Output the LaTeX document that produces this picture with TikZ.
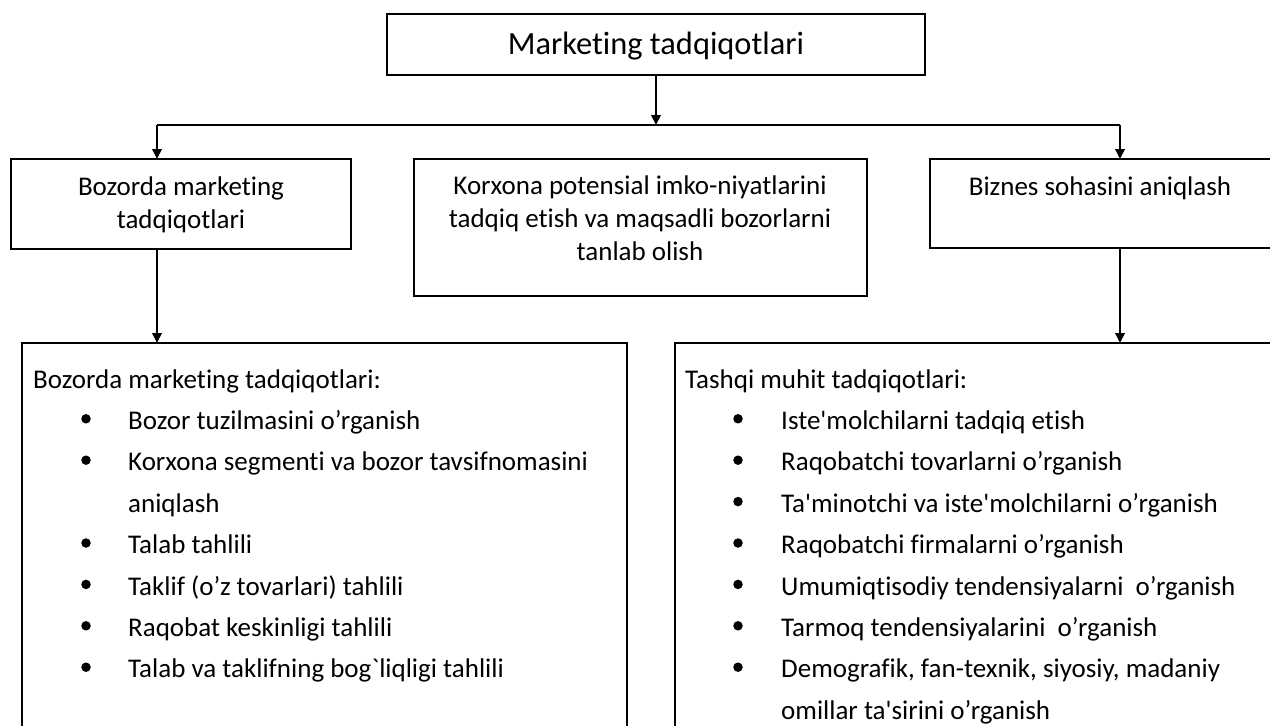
\documentclass[tikz,border=0pt]{standalone}
\usepackage{fontspec}
\newfontfamily\carl{Carlito}[Ligatures=NoCommon]
\usetikzlibrary{arrows.meta}

\tikzset{
  box/.style={draw, line width=1.9pt, inner sep=0pt, outer sep=0pt, anchor=north west},
  arr/.style={line width=1.9pt, -{Triangle[length=10pt,width=9.5pt]}},
  link/.style={line width=1.9pt},
  title/.style={anchor=base, inner sep=0pt, font=\carl\fontsize{32.4}{38}\selectfont},
  lbl/.style={anchor=base, inner sep=0pt, font=\carl\fontsize{27}{33}\selectfont},
  itm/.style={anchor=base west, inner sep=0pt, font=\carl\fontsize{27}{33}\selectfont},
  dot/.style={circle, fill=black, inner sep=0pt, minimum size=9.5pt}
}

\begin{document}
\begin{tikzpicture}[x=1pt, y=-1pt]
  \useasboundingbox (0,0) rectangle (1270,726);
  \clip (0,0) rectangle (1270,726);

  % boxes
  \node[box, minimum width=538pt, minimum height=61pt]  (top) at (387,14)  {};
  \node[box, minimum width=340pt, minimum height=90pt]  (lb)  at (11,159)  {};
  \node[box, minimum width=453pt, minimum height=137pt] (mb)  at (414,159) {};
  \node[box, minimum width=341pt, minimum height=89pt]  (rb)  at (930,159) {};
  \node[box, minimum width=605pt, minimum height=500pt] (bl)  at (22,343)  {};
  \node[box, minimum width=700pt, minimum height=500pt] (br)  at (675,343) {};

  % texts of the upper boxes
  \node[title] (ttop) at (656,54) {Marketing tadqiqotlari};
  \node[lbl] (tl1) at (181,195) {Bozorda marketing};
  \node[lbl] (tl2) at (181,228) {tadqiqotlari};
  \node[lbl] (tm1) at (640,194.5) {Korxona potensial imko-niyatlarini};
  \node[lbl] (tm2) at (640,227.5) {tadqiq etish va maqsadli bozorlarni};
  \node[lbl] (tm3) at (640,260.5) {tanlab olish};
  \node[lbl] (tr1) at (1100,195) {Biznes sohasini aniqlash};

  % connectors
  \coordinate (jT) at (656,125);
  \coordinate (jL) at (157,125);
  \coordinate (jR) at (1120,125);
  \draw[arr]  (top.south) -- (jT);
  \draw[link] (jL) -- (jR);
  \draw[arr]  (jL) -- (jL |- lb.north);
  \draw[arr]  (jR) -- (jR |- rb.north);
  \draw[arr]  (lb.south -| jL) -- (jL |- bl.north);
  \draw[arr]  (rb.south -| jR) -- (jR |- br.north);

  % left list
  \node[itm] (lh) at (33,388) {Bozorda marketing tadqiqotlari:};
  \foreach \k/\b/\t in {
      1/1/{Bozor tuzilmasini o’rganish},
      2/1/{Korxona segmenti va bozor tavsifnomasini},
      3/0/{aniqlash},
      4/1/{Talab tahlili},
      5/1/{Taklif (o’z tovarlari) tahlili},
      6/1/{Raqobat keskinligi tahlili},
      7/1/{Talab va taklifning bog`liqligi tahlili}} {
    \node[itm] (L\k) at (128,388+41.4*\k) {\t};
    \ifnum\b=1
      \node[dot] (Ld\k) at (86,377.4+41.4*\k) {};
    \fi
  }

  % right list
  \node[itm] (rh) at (685,388) {Tashqi muhit tadqiqotlari:};
  \foreach \k/\b/\t in {
      1/1/{Iste'molchilarni tadqiq etish},
      2/1/{Raqobatchi tovarlarni o’rganish},
      3/1/{Ta'minotchi va iste'molchilarni o’rganish},
      4/1/{Raqobatchi firmalarni o’rganish},
      5/1/{Umumiqtisodiy tendensiyalarni\ \ o’rganish},
      6/1/{Tarmoq tendensiyalarini\ \ o’rganish},
      7/1/{Demografik, fan-texnik, siyosiy, madaniy},
      8/0/{omillar ta'sirini o’rganish}} {
    \node[itm] (R\k) at (781,388+41.4*\k) {\t};
    \ifnum\b=1
      \node[dot] (Rd\k) at (738,377.4+41.4*\k) {};
    \fi
  }
\end{tikzpicture}
\end{document}
